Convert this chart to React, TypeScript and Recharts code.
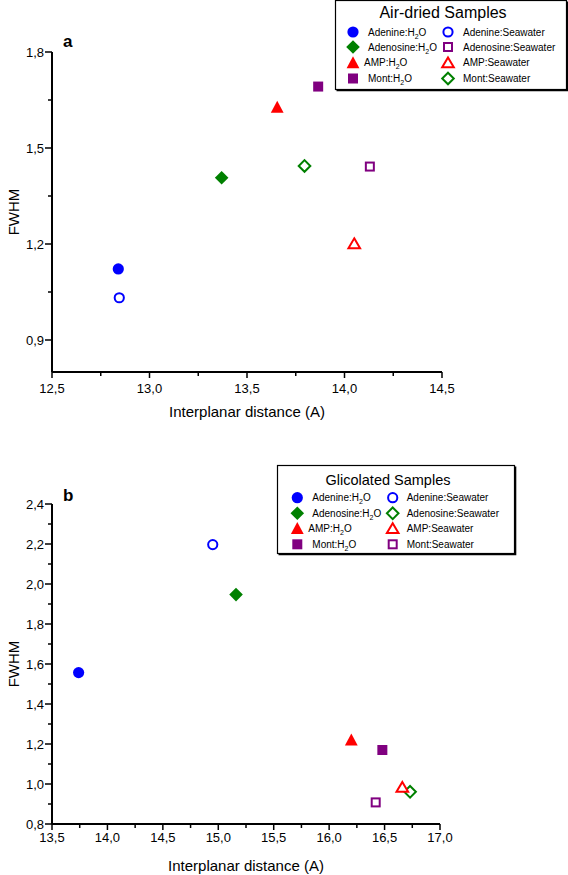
import React from 'react';
import { ScatterChart, Scatter, XAxis, YAxis, Legend, Label } from 'recharts';

// sample order used by every array below
const samples = ['Adenine', 'Adenosine', 'AMP', 'Mont'];

// a – air-dried samples
const airWaterX = [12.84, 13.37, 13.655, 13.865];
const airWaterY = [1.122, 1.407, 1.628, 1.692];
const airSeaX = [12.845, 14.13, 14.05, 13.795];
const airSeaY = [1.032, 1.442, 1.202, 1.444];

// b – glycolated samples
const glyWaterX = [13.74, 15.16, 16.2, 16.48];
const glyWaterY = [1.557, 1.947, 1.222, 1.17];
const glySeaX = [14.95, 16.73, 16.66, 16.42];
const glySeaY = [2.197, 0.961, 0.985, 0.908];

// ticks
const airXMajor = [12.5, 13.0, 13.5, 14.0, 14.5];
const airXMinor = [12.75, 13.25, 13.75, 14.25];
const airYMajor = [0.9, 1.2, 1.5, 1.8];
const airYMinor = [1.05, 1.35, 1.65];
const glyXMajor = [13.5, 14.0, 14.5, 15.0, 15.5, 16.0, 16.5, 17.0];
const glyXMinor = [13.75, 14.25, 14.75, 15.25, 15.75, 16.25, 16.75];
const glyYMajor = [0.8, 1.0, 1.2, 1.4, 1.6, 1.8, 2.0, 2.2, 2.4];
const glyYMinor = [0.9, 1.1, 1.3, 1.5, 1.7, 1.9, 2.1, 2.3];

// marker styles
type Kind = 'circle' | 'diamond' | 'triangle' | 'square';
const BLUE = '#0000ff';
const GREEN = '#008000';
const RED = '#ff0000';
const PURPLE = '#800080';
const waterKinds: Kind[] = ['circle', 'diamond', 'triangle', 'square'];
const waterColors = [BLUE, GREEN, RED, PURPLE];
const airSeaKinds: Kind[] = ['circle', 'square', 'triangle', 'diamond'];
const airSeaColors = [BLUE, PURPLE, RED, GREEN];
const glySeaKinds: Kind[] = ['circle', 'diamond', 'triangle', 'square'];
const glySeaColors = [BLUE, GREEN, RED, PURPLE];

const FONT = '"Liberation Sans", Arial, sans-serif';
const fmt = (v: number) => v.toFixed(1).replace('.', ',');
const isMajor = (majors: number[], v: number) => majors.some((m) => Math.abs(m - v) < 1e-6);

interface Series {
  name: string;
  sample: string;
  medium: 'H2O' | 'Seawater';
  data: { x: number; y: number }[];
  kind: Kind;
  color: string;
  filled: boolean;
  row: number;
  col: number;
}

const buildSeries = (
  wx: number[], wy: number[], sx: number[], sy: number[],
  seaKinds: Kind[], seaColors: string[]
): Series[] => [
  ...samples.map((s, i) => ({
    name: `${s}:H2O`, sample: s, medium: 'H2O' as const,
    data: [{ x: wx[i], y: wy[i] }],
    kind: waterKinds[i], color: waterColors[i], filled: true, row: i, col: 0,
  })),
  ...samples.map((s, i) => ({
    name: `${s}:Seawater`, sample: s, medium: 'Seawater' as const,
    data: [{ x: sx[i], y: sy[i] }],
    kind: seaKinds[i], color: seaColors[i], filled: false, row: i, col: 1,
  })),
];

const airSeries = buildSeries(airWaterX, airWaterY, airSeaX, airSeaY, airSeaKinds, airSeaColors);
const glySeries = buildSeries(glyWaterX, glyWaterY, glySeaX, glySeaY, glySeaKinds, glySeaColors);

const Marker = ({ cx, cy, kind, color, filled }: { cx: number; cy: number; kind: Kind; color: string; filled: boolean }) => {
  const fill = filled ? color : '#fff';
  const sw = filled ? 0 : 2;
  if (kind === 'circle') {
    return <circle cx={cx} cy={cy} r={filled ? 5.6 : 4.6} fill={fill} stroke={color} strokeWidth={sw} />;
  }
  if (kind === 'diamond') {
    const h = filled ? 6.8 : 5.8;
    return <polygon points={`${cx},${cy - h} ${cx + h},${cy} ${cx},${cy + h} ${cx - h},${cy}`} fill={fill} stroke={color} strokeWidth={sw} />;
  }
  if (kind === 'triangle') {
    const w = filled ? 6.4 : 5.8;
    const t = filled ? 6.2 : 5;
    const b = filled ? 5.8 : 4.8;
    return <polygon points={`${cx},${cy - t} ${cx + w},${cy + b} ${cx - w},${cy + b}`} fill={fill} stroke={color} strokeWidth={sw} />;
  }
  const s = filled ? 5 : 4;
  return <rect x={cx - s} y={cy - s} width={2 * s} height={2 * s} fill={fill} stroke={color} strokeWidth={sw} />;
};

const SeriesLabel = ({ s }: { s: Series }) =>
  s.medium === 'H2O' ? (
    <>
      {s.sample}:H<tspan dy={3} fontSize={7}>2</tspan><tspan dy={-3}>O</tspan>
    </>
  ) : (
    <>{s.sample}:Seawater</>
  );

const makeXTick = (majors: number[], labelDy: number) => (props: any) => {
  const { x, y, payload } = props;
  const major = isMajor(majors, payload.value);
  return (
    <g>
      <line x1={x} x2={x} y1={y} y2={y + (major ? 6 : 4)} stroke="#000" strokeWidth={1.5} />
      {major && (
        <text x={x} y={y + labelDy} textAnchor="middle" fontSize={13} fill="#000" fontFamily={FONT}>
          {fmt(payload.value)}
        </text>
      )}
    </g>
  );
};

const makeYTick = (majors: number[]) => (props: any) => {
  const { x, y, payload } = props;
  const major = isMajor(majors, payload.value);
  return (
    <g>
      <line x1={x - (major ? 7 : 4)} x2={x} y1={y} y2={y} stroke="#000" strokeWidth={1.5} />
      {major && (
        <text x={x - 8} y={y + 4.5} textAnchor="end" fontSize={13} fill="#000" fontFamily={FONT}>
          {fmt(payload.value)}
        </text>
      )}
    </g>
  );
};

interface LegendLayout {
  width: number;
  height: number;
  title: string;
  titleX: number;
  titleY: number;
  titleSize: number;
  rowsY: number[];
  markerX: number[];
  textX: number[];
}

const makeLegend = (series: Series[], lay: LegendLayout) => (props: any) => {
  const payload: any[] = props.payload || [];
  return (
    <svg width={lay.width + 2} height={lay.height + 2} style={{ display: 'block', overflow: 'visible' }}>
      <rect x={0.5} y={0.5} width={lay.width - 2} height={lay.height - 2} fill="#fff" stroke="#000" strokeWidth={1.2} />
      <polyline
        points={`${lay.width - 0.5},1.5 ${lay.width - 0.5},${lay.height - 0.5} 1.5,${lay.height - 0.5}`}
        fill="none" stroke="#000" strokeWidth={1.6}
      />
      <text x={lay.titleX} y={lay.titleY} textAnchor="middle" fontSize={lay.titleSize} fill="#000" fontFamily={FONT}>
        {lay.title}
      </text>
      {payload.map((p) => {
        const s = series.find((d) => d.name === p.value);
        if (!s) return null;
        const cy = lay.rowsY[s.row];
        const tx = lay.textX[s.col] - (s.col === 0 && s.sample === 'AMP' ? 4 : 0);
        return (
          <g key={s.name}>
            <Marker cx={lay.markerX[s.col]} cy={cy} kind={s.kind} color={s.color} filled={s.filled} />
            <text x={tx} y={cy + 3.6} fontSize={10} fill="#000" fontFamily={FONT}>
              <SeriesLabel s={s} />
            </text>
          </g>
        );
      })}
    </svg>
  );
};

interface PanelProps {
  letter: string;
  series: Series[];
  height: number;
  margin: { top: number; right: number; bottom: number; left: number };
  xAxisHeight: number;
  xDomain: [number, number];
  yDomain: [number, number];
  xMajor: number[];
  xMinor: number[];
  yMajor: number[];
  yMinor: number[];
  xLabelDy: number;
  titleDy: number;
  letterDy: number;
  legendPos: { left: number; top: number };
  legendLayout: LegendLayout;
}

const Panel = (p: PanelProps) => (
  <ScatterChart width={568} height={p.height} margin={p.margin}>
    <XAxis
      type="number"
      dataKey="x"
      domain={p.xDomain}
      ticks={[...p.xMajor, ...p.xMinor].sort((a, b) => a - b)}
      interval={0}
      tick={makeXTick(p.xMajor, p.xLabelDy)}
      tickLine={false}
      tickSize={0}
      tickMargin={0}
      axisLine={{ stroke: '#000', strokeWidth: 2 }}
      height={p.xAxisHeight}
    >
      <Label
        content={(lp: any) => {
          const vb = lp.viewBox;
          return (
            <text x={vb.x + vb.width / 2} y={vb.y + p.titleDy} textAnchor="middle" fontSize={15} fill="#000" fontFamily={FONT}>
              Interplanar distance (A)
            </text>
          );
        }}
      />
    </XAxis>
    <YAxis
      type="number"
      dataKey="y"
      domain={p.yDomain}
      ticks={[...p.yMajor, ...p.yMinor].sort((a, b) => a - b)}
      interval={0}
      tick={makeYTick(p.yMajor)}
      tickLine={false}
      tickSize={0}
      tickMargin={0}
      axisLine={{ stroke: '#000', strokeWidth: 2 }}
      width={52}
    >
      <Label
        content={(lp: any) => {
          const vb = lp.viewBox;
          const cx = 19;
          const cy = vb.y + vb.height / 2;
          return (
            <text x={cx} y={cy} transform={`rotate(-90 ${cx} ${cy})`} textAnchor="middle" fontSize={15} fill="#000" fontFamily={FONT}>
              FWHM
            </text>
          );
        }}
      />
      <Label
        content={(lp: any) => {
          const vb = lp.viewBox;
          return (
            <text x={vb.x + vb.width + 11} y={vb.y + p.letterDy} fontSize={17} fontWeight="bold" fill="#000" fontFamily={FONT}>
              {p.letter}
            </text>
          );
        }}
      />
    </YAxis>
    {p.series.map((s) => (
      <Scatter
        key={s.name}
        name={s.name}
        data={s.data}
        fill={s.color}
        isAnimationActive={false}
        shape={(sp: any) => <Marker cx={sp.cx} cy={sp.cy} kind={s.kind} color={s.color} filled={s.filled} />}
      />
    ))}
    <Legend
      layout="horizontal"
      verticalAlign="middle"
      align="center"
      content={makeLegend(p.series, p.legendLayout)}
      wrapperStyle={{ left: p.legendPos.left, top: p.legendPos.top, width: p.legendLayout.width + 2, height: p.legendLayout.height + 2 }}
    />
  </ScatterChart>
);

export default function App() {
  return (
    <div style={{ position: 'absolute', left: 0, top: 0, width: 568, height: 875, background: '#fff', fontFamily: FONT }}>
      <Panel
        letter="a"
        series={airSeries}
        height={430}
        margin={{ top: 52, right: 126, bottom: 8, left: 0 }}
        xAxisHeight={50}
        xDomain={[12.5, 14.5]}
        yDomain={[0.8, 1.8]}
        xMajor={airXMajor}
        xMinor={airXMinor}
        yMajor={airYMajor}
        yMinor={airYMinor}
        xLabelDy={21}
        titleDy={45}
        letterDy={-5}
        legendPos={{ left: 335, top: 0 }}
        legendLayout={{
          width: 233,
          height: 91,
          title: 'Air-dried Samples',
          titleX: 108,
          titleY: 18,
          titleSize: 16,
          rowsY: [32, 47, 62.5, 78.5],
          markerX: [18, 113],
          textX: [33, 128],
        }}
      />
      <Panel
        letter="b"
        series={glySeries}
        height={445}
        margin={{ top: 74, right: 128, bottom: 10, left: 0 }}
        xAxisHeight={41}
        xDomain={[13.5, 17.0]}
        yDomain={[0.8, 2.4]}
        xMajor={glyXMajor}
        xMinor={glyXMinor}
        yMajor={glyYMajor}
        yMinor={glyYMinor}
        xLabelDy={18}
        titleDy={47}
        letterDy={-3}
        legendPos={{ left: 277, top: 35 }}
        legendLayout={{
          width: 239,
          height: 90,
          title: 'Glicolated Samples',
          titleX: 111,
          titleY: 19.5,
          titleSize: 14.5,
          rowsY: [32.7, 48.3, 63.3, 79.3],
          markerX: [20.3, 115.7],
          textX: [35.3, 129.7],
        }}
      />
    </div>
  );
}
